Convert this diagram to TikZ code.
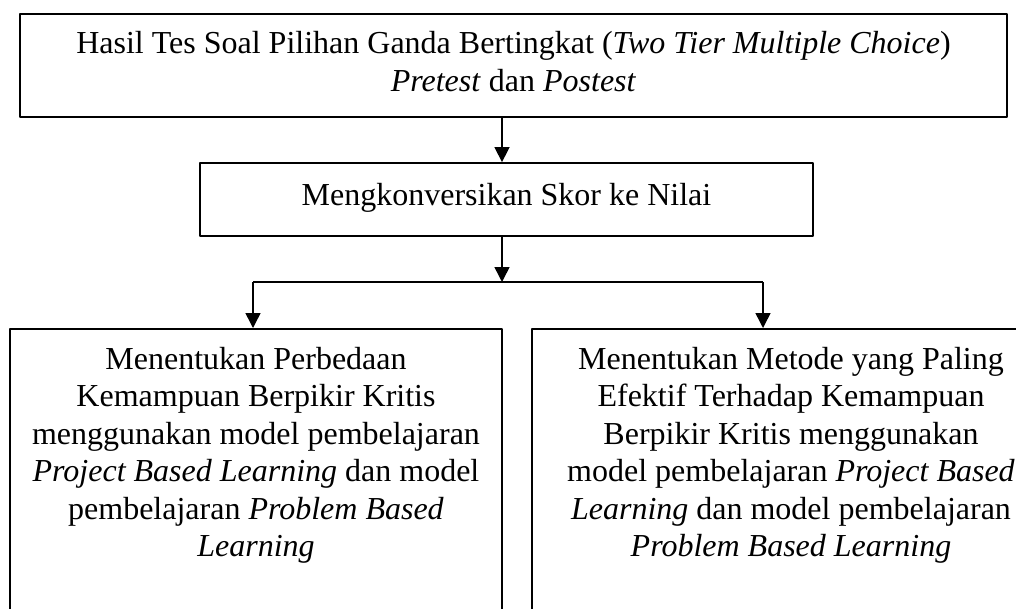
\documentclass[tikz,border=0pt]{standalone}
\usepackage{fontspec}
\setmainfont{Liberation Serif}
\usetikzlibrary{arrows.meta}
\begin{document}
\begin{tikzpicture}[x=1pt, y=-1pt, line join=round, >={Triangle[width=15pt,length=15pt]}]
	\tikzset{box/.style={draw, line width=1.8pt, align=flush center, inner sep=0pt, font=\fontsize{32}{37.5}\selectfont},
		arr/.style={->, line width=1.5pt}}
	\useasboundingbox (0,0) rectangle (1016,608);
	\node[box, minimum width=987pt, minimum height=103pt, text width=960pt, text depth=45.5pt] (hasil) at (513.5,65.5)
		{Hasil Tes Soal Pilihan Ganda Bertingkat (\textit{Two Tier Multiple Choice})\\ \textit{Pretest} dan \textit{Postest}};
	\node[box, minimum width=613pt, minimum height=73pt, text width=590pt, text depth=11pt] (skor) at (506.5,199.5)
		{Mengkonversikan Skor ke Nilai};
	\node[box, anchor=north, minimum width=492pt, text width=470pt, inner ysep=18pt, text depth=300pt] (beda) at (256,328)
		{Menentukan Perbedaan\\ Kemampuan Berpikir Kritis\\ menggunakan model pembelajaran\\
		\textit{Project Based Learning} dan model\\ pembelajaran \textit{Problem Based}\\ \textit{Learning}};
	\node[box, anchor=north, minimum width=518pt, text width=500pt, inner ysep=18pt, text depth=300pt] (efektif) at (791,328)
		{Menentukan Metode yang Paling\\ Efektif Terhadap Kemampuan\\ Berpikir Kritis menggunakan\\
		model pembelajaran \textit{Project Based}\\ \textit{Learning} dan model pembelajaran\\ \textit{Problem Based Learning}};
	% cabang
	\coordinate (cabang) at (502,282);
	\coordinate (kiri) at (253,282);
	\coordinate (kanan) at (763,282);
	\draw[arr] (hasil.south -| cabang) -- (skor.north -| cabang);
	\draw[arr] (skor.south -| cabang) -- (cabang);
	\draw[line width=1.5pt] (kiri) -- (kanan);
	\draw[arr] (kiri) -- (kiri |- beda.north);
	\draw[arr] (kanan) -- (kanan |- efektif.north);
\end{tikzpicture}
\end{document}
